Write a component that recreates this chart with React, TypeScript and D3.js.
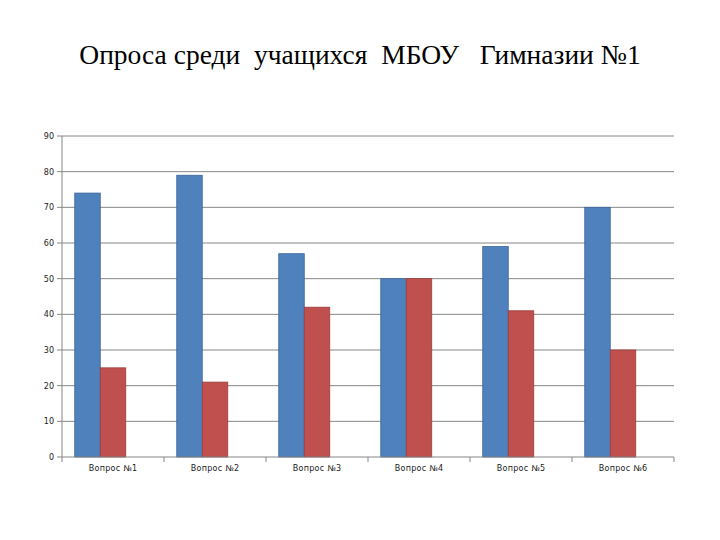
import React from "react";
import * as d3 from "d3";

const categories = ["Вопрос №1", "Вопрос №2", "Вопрос №3", "Вопрос №4", "Вопрос №5", "Вопрос №6"];
const seriesBlue = [74, 79, 57, 50, 59, 70];
const seriesRed = [25, 21, 42, 50, 41, 30];
const yTicks = [0, 10, 20, 30, 40, 50, 60, 70, 80, 90];
const title = "Опроса среди  учащихся  МБОУ   Гимназии №1";

export default function App() {
  const W = 720, H = 540;
  const left = 62, right = 674, top = 136, bottom = 457;
  const x = d3.scaleBand<string>().domain(categories).range([left, right]).paddingInner(0).paddingOuter(0);
  const y = d3.scaleLinear().domain([0, 90]).range([bottom, top]);
  const bw = x.bandwidth();
  const slot = bw / 4; // 3 series slots + gap (100%)
  const off = slot / 2;
  return (
    <svg width={W} height={H} style={{ position: "absolute", left: 0, top: 0 }}>
      <rect x={0} y={0} width={W} height={H} fill="#fff" />
      <text x={360} y={64} textAnchor="middle" fontFamily="'Liberation Serif', 'Times New Roman', serif" fontSize={27.5} fill="#000">
        {title.split(" ").join("\u00a0")}
      </text>
      {yTicks.map((t) => (
        <g key={t}>
          {t > 0 && <line x1={left} x2={right} y1={y(t)} y2={y(t)} stroke="#868686" strokeWidth={1} />}
          <line x1={left - 5} x2={left} y1={y(t)} y2={y(t)} stroke="#868686" />
          <text x={left - 8} y={y(t) + 3} textAnchor="end" fontFamily="'DejaVu Sans', sans-serif" fontSize={8} fill="#222">{t}</text>
        </g>
      ))}
      {categories.map((c, i) => {
        const x0 = x(c)!;
        return (
          <g key={c}>
            <rect x={x0 + off} y={y(seriesBlue[i])} width={slot} height={bottom - y(seriesBlue[i])} fill="#4F81BD" stroke="#3b6699" strokeWidth={0.8} />
            <rect x={x0 + off + slot} y={y(seriesRed[i])} width={slot} height={bottom - y(seriesRed[i])} fill="#C0504D" stroke="#9a3d3a" strokeWidth={0.8} />
            <text x={x0 + bw / 2} y={471} textAnchor="middle" fontFamily="'DejaVu Sans', sans-serif" fontSize={8} letterSpacing={0.3} fill="#222">{c}</text>
          </g>
        );
      })}
      {d3.range(categories.length + 1).map((i) => (
        <line key={i} x1={left + i * bw} x2={left + i * bw} y1={bottom} y2={bottom + 5} stroke="#868686" />
      ))}
      <line x1={left} x2={left} y1={top} y2={bottom} stroke="#868686" />
      <line x1={left} x2={right} y1={bottom} y2={bottom} stroke="#868686" />
    </svg>
  );
}
